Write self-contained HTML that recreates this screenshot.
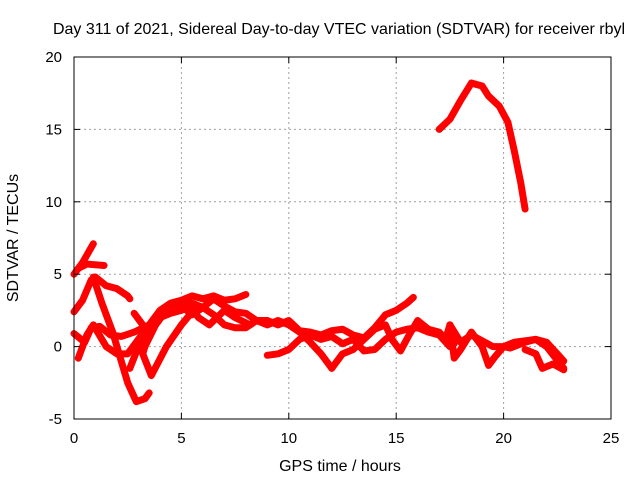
<!DOCTYPE html>
<html><head><meta charset="utf-8"><style>
body{margin:0;background:#fff}
svg{display:block;font-family:"Liberation Sans",sans-serif}
</style></head><body>
<svg id="chart" width="640" height="480">
<text x="339" y="34" text-anchor="middle" font-size="16">Day 311 of 2021, Sidereal Day-to-day VTEC variation (SDTVAR) for receiver rbyl</text>
<text x="340" y="471" text-anchor="middle" font-size="16">GPS time / hours</text>
<text transform="translate(18,238) rotate(-90)" text-anchor="middle" font-size="16">SDTVAR / TECUs</text>
<g id="grid"></g><g id="series"></g><g id="axes"></g>
</svg>
<script>
const xTicks=[0,5,10,15,20,25];
const yTicks=[-5,0,5,10,15,20];
const s1=[[17,15],[17.5,15.7],[18,17],[18.5,18.2],[19,18],[19.3,17.3],[19.8,16.6],[20.2,15.5],[20.5,13.5],[20.8,11.3],[21,9.5]];
const s2=[[0,5],[0.4,5.8],[0.9,7.1]];
const s3=[[0.2,5.4],[0.6,5.7],[1.4,5.6]];
const s4=[[0,2.4],[0.4,3.2],[0.8,4.6],[1.0,4.8],[1.5,4.2],[2.0,4.0],[2.5,3.5],[2.6,3.3]];
const s5=[[0.9,4.8],[1.3,3],[1.8,1],[2.2,-1],[2.5,-2.5],[2.9,-3.8],[3.3,-3.6],[3.5,-3.2]];
const s6=[[0,0.9],[0.5,0.3],[0.8,1.3],[1.2,1.4],[1.7,0.8],[2.2,0.7],[2.8,1],[3.5,1.5],[4,2.5],[4.5,3],[5,3.2],[5.5,3.5],[6,3.3],[6.5,3.5],[7,3.2],[7.5,3.3],[8,3.6]];
const s7=[[0.2,-0.8],[0.6,0.8],[0.9,1.5],[1.5,0],[2,-0.5],[2.5,-0.5],[3,0.5],[3.5,1.5],[4,2.0],[4.5,2.3],[5,2.5],[5.5,3.0],[6,2.7],[6.5,2.2],[7,1.5],[7.5,1.3],[8,1.3],[8.5,1.8],[9,1.5],[9.5,1.8],[10,1.5],[10.5,1.0],[11,0.3],[11.5,-0.5],[12,-1.5]];
const s8=[[2.6,-1.5],[3,0],[3.5,1],[4,2.2],[4.5,2.5],[5,2.8],[5.5,2.2],[6,2.7],[6.5,3.3],[7,2.8],[7.5,2.4],[8,2.3],[8.5,1.8],[9,1.8],[9.5,1.5],[10,1.8],[10.5,1.1],[11,1.0],[11.5,0.8],[12,1.1],[12.5,1.2],[13,0.8],[13.5,0.6],[14,1.3],[14.5,2.2],[15,2.5],[15.5,3.0],[15.8,3.4]];
const s9=[[3.3,0],[3.8,1.5],[4.3,2.5],[4.8,3.0],[5.3,3.0],[5.8,2.0],[6.3,1.5],[7,2.5],[7.5,2.0],[8.2,1.5]];
const s10=[[2.8,2.3],[3.2,1.5],[3.5,1.0],[3.2,-0.5],[3.6,-2],[4.3,0],[5,1.5],[5.5,2.4]];
const s11=[[9,-0.6],[9.5,-0.5],[10,-0.2],[10.5,0.5],[11,0.8],[11.5,0.5],[12,0.7],[12.5,0.2],[13,0.5],[13.5,-0.3],[14,-0.2],[14.5,0.5],[15,1.0],[15.5,1.2],[16,1.3],[16.5,1.0],[17,0.8],[17.5,0],[17.7,0.2]];
const s12=[[12,-1.5],[12.5,-0.5],[13,-0.2],[13.5,0.5],[14,1.2],[14.5,1.5],[14.8,0.5],[15.2,-0.3],[15.6,0.8],[16,1.8],[16.5,1.2],[17,1.0],[17.3,0.5],[17.5,1.5],[17.7,-0.8],[18,-0.2],[18.5,1.0],[19,0],[19.3,-1.3],[19.6,-0.7],[20,0],[20.3,-0.1],[21,0.3],[21.5,0.5],[22,0],[22.8,-1.5]];
const s13=[[17.5,1.5],[18,0.3],[18.5,0.8],[19,0.4],[19.5,0],[20,0],[20.5,0.3],[21,0.4],[21.5,0.5],[22,0.3],[22.5,-0.5],[22.8,-1.0]];
const s14=[[21,-0.2],[21.5,-0.5],[21.8,-1.5],[22.3,-1.2],[22.8,-1.6]];
const allSeries=[s1,s2,s3,s4,s5,s6,s7,s8,s9,s10,s11,s12,s13,s14];
const X0=74,X1=611,Y0=419,Y1=57;
const sx=v=>X0+(v-0)/(25-0)*(X1-X0);
const sy=v=>Y0-(v+5)/(25)*(Y0-Y1);
const NS="http://www.w3.org/2000/svg";
const grid=document.getElementById('grid'),axes=document.getElementById('axes'),ser=document.getElementById('series');
function mk(tag,attrs,parent){const e=document.createElementNS(NS,tag);for(const k in attrs)e.setAttribute(k,attrs[k]);parent.appendChild(e);return e;}
xTicks.forEach(t=>{
  if(t>0&&t<25){const g=mk('line',{x1:sx(t),x2:sx(t),y1:Y1,y2:Y0,stroke:'#a0a0a0','stroke-dasharray':'2,3'},grid);
  
  }
  const l=mk('text',{x:sx(t),y:Y0+24,'text-anchor':'middle','font-size':15},axes);l.textContent=t;
  
  
  mk('line',{x1:sx(t),x2:sx(t),y1:Y0,y2:Y0-6,stroke:'#000'},axes);
  mk('line',{x1:sx(t),x2:sx(t),y1:Y1,y2:Y1+6,stroke:'#000'},axes);
});
yTicks.forEach(t=>{
  if(t>-5&&t<20){const g=mk('line',{x1:X0,x2:X1,y1:sy(t),y2:sy(t),stroke:'#a0a0a0','stroke-dasharray':'2,3'},grid);
  
  }
  const l=mk('text',{x:X0-12,y:sy(t)+5,'text-anchor':'end','font-size':15},axes);l.textContent=t;
  
  
  mk('line',{x1:X0,x2:X0+6,y1:sy(t),y2:sy(t),stroke:'#000'},axes);
  mk('line',{x1:X1,x2:X1-6,y1:sy(t),y2:sy(t),stroke:'#000'},axes);
});
const box=mk('rect',{x:X0,y:Y1,width:X1-X0,height:Y0-Y1,fill:'none',stroke:'#000'},axes);


allSeries.forEach((s,i)=>{
  const p=mk('polyline',{points:s.map(d=>sx(d[0])+','+sy(d[1])).join(' '),fill:'none',stroke:'#ff0000','stroke-width':7,'stroke-linejoin':'round','stroke-linecap':'round'},ser);
  
  
});
</script>
</body></html>
